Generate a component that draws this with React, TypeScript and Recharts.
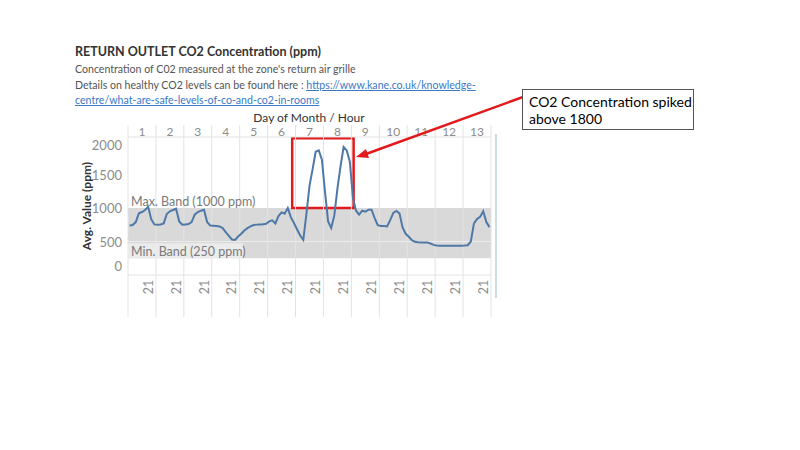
import { LineChart, Line, XAxis, YAxis, ReferenceArea, ReferenceLine } from 'recharts'

// days shown as panes, hours sampled inside each day
const days = [1, 2, 3, 4, 5, 6, 7, 8, 9, 10, 11, 12, 13]
const hours = [0, 4, 8, 12, 16, 19, 21, 22, 23]
const hourLabel = 21

// avg CO2 (ppm), one row per day, one value per sampled hour
const co2ByDay = [
  [740, 745, 790, 920, 940, 970, 1020, 830, 755],
  [750, 755, 770, 910, 950, 970, 990, 800, 750],
  [755, 760, 790, 900, 940, 960, 975, 790, 740],
  [735, 730, 725, 700, 640, 585, 530, 525, 575],
  [615, 665, 700, 725, 745, 752, 755, 757, 765],
  [800, 815, 770, 880, 935, 915, 1000, 860, 775],
  [680, 590, 525, 910, 1330, 1580, 1840, 1860, 1720],
  [1240, 800, 700, 890, 1290, 1620, 1910, 1860, 1690],
  [1150, 960, 900, 960, 945, 975, 975, 850, 745],
  [732, 730, 725, 820, 925, 955, 920, 710, 615],
  [570, 520, 495, 488, 486, 485, 484, 470, 450],
  [440, 438, 437, 437, 437, 437, 438, 438, 438],
  [440, 445, 500, 770, 835, 870, 950, 790, 715],
]

const yTicks = [0, 500, 1000, 1500, 2000]
const yMax = 2060
const bandMin = 250
const bandMax = 1000
const spikeDays = [7, 8]

const data = days.flatMap((day, di) =>
  hours.map((hour, hi) => ({ t: di + (hi + 0.5) / hours.length, day, hour, value: co2ByDay[di][hi] }))
)
const bounds = days.map((_, i) => i).concat(days.length)
const topTicks = bounds.concat(days.map((_, i) => i + 0.5))
const labelPos = (hours.indexOf(hourLabel) + 0.5) / hours.length
const bottomTicks = bounds.concat(days.map((_, i) => i + labelPos))

const FONT = 'Lato, "Open Sans", sans-serif'
const GRID = '#e3e3e3'
const LINK = { color: '#3a78c8', textDecoration: 'underline' }

const TopTick = ({ x, y, payload }: any) => {
  const v = payload.value
  if (Number.isInteger(v)) return <line x1={x} x2={x} y1={y - 12} y2={y} stroke={GRID} />
  return (
    <text x={x} y={y - 6} textAnchor="middle" dominantBaseline="central" fill="#8c8c8c" fontSize={12} fontFamily={FONT}>
      {days[Math.floor(v)]}
    </text>
  )
}

const BottomTick = ({ x, y, payload }: any) => {
  const v = payload.value
  if (Number.isInteger(v)) return <line x1={x} x2={x} y1={y} y2={y + 42} stroke={GRID} />
  return (
    <text x={x} y={y + 12} transform={`rotate(-90 ${x} ${y + 12})`} textAnchor="middle" dominantBaseline="central" fill="#8c8c8c" fontSize={12.5} fontFamily={FONT}>
      {hourLabel}
    </text>
  )
}

const LeftTick = ({ x, y, payload }: any) => (
  <text x={x} y={Math.min(Math.max(y, 145), 266)} textAnchor="end" dominantBaseline="central" fill="#8c8c8c" fontSize={13} fontFamily={FONT}>
    {payload.value}
  </text>
)

const BandLabel = ({ viewBox, text, shaded }: any) => {
  const { x, y } = viewBox
  return (
    <g>
      {shaded && <rect x={x} y={y - 15} width={115} height={15} fill="#ebebeb" />}
      <text x={x + 3} y={y - 7} dominantBaseline="central" fill="#7a7a7a" fontSize={12.5} fontFamily={FONT}>
        {text}
      </text>
    </g>
  )
}

export default function App() {
  return (
    <div style={{ position: 'absolute', left: 0, top: 0, width: 800, height: 450, background: '#fff', fontFamily: FONT }}>
      <div style={{ position: 'absolute', left: 75, top: 44, fontSize: 12.5, fontWeight: 700, color: '#333', whiteSpace: 'nowrap' }}>
        RETURN OUTLET CO2 Concentration (ppm)
      </div>
      <div style={{ position: 'absolute', left: 75, top: 62, fontSize: 10.6, lineHeight: '15.5px', color: '#555', whiteSpace: 'nowrap' }}>
        <div>Concentration of C02 measured at the zone's return air grille</div>
        <div>
          Details on healthy CO2 levels can be found here : <span style={LINK}>https://www.kane.co.uk/knowledge-</span>
        </div>
        <div>
          <span style={LINK}>centre/what-are-safe-levels-of-co-and-co2-in-rooms</span>
        </div>
      </div>

      <LineChart width={800} height={450} data={data} margin={{ top: 124, right: 309, bottom: 135, left: 68 }} style={{ position: 'absolute', left: 0, top: 0 }}>
        <XAxis xAxisId="top" orientation="top" type="number" dataKey="t" domain={[0, days.length]} ticks={topTicks} interval={0} height={13} tickSize={0} tickMargin={0} axisLine={false} tick={<TopTick />} />
        <XAxis type="number" dataKey="t" domain={[0, days.length]} ticks={bottomTicks} interval={0} height={40} tickSize={0} tickMargin={0} axisLine={false} tick={<BottomTick />} />
        <YAxis type="number" domain={[0, yMax]} ticks={yTicks} width={60} tickSize={0} tickMargin={6} axisLine={false} tick={<LeftTick />} />

        <ReferenceArea y1={bandMin} y2={bandMax} fill="#d9d9d9" fillOpacity={1} stroke="none" />
        <ReferenceLine y={500} stroke="#ececec" />
        <ReferenceLine y={0} stroke={GRID} />
        <ReferenceLine y={yMax} stroke={GRID} />
        {bounds.map((b) => (
          <ReferenceLine key={b} x={b} stroke={GRID} />
        ))}
        <ReferenceLine y={bandMax} stroke="none" label={<BandLabel text="Max. Band (1000 ppm)" />} />
        <ReferenceLine y={bandMin} stroke="none" label={<BandLabel text="Min. Band (250 ppm)" shaded />} />

        <Line dataKey="value" type="linear" stroke="#4e79a7" strokeWidth={2} dot={false} isAnimationActive={false} />

        <ReferenceArea
          x1={spikeDays[0] - 1 - 0.12}
          x2={spikeDays[1] + 0.08}
          y1={bandMax}
          y2={yMax - 20}
          fill="none"
          stroke="#e31a1c"
          strokeWidth={2.5}
          ifOverflow="visible"
        />
      </LineChart>

      <svg width={800} height={450} style={{ position: 'absolute', left: 0, top: 0, pointerEvents: 'none' }}>
        <text x={309} y={117} textAnchor="middle" dominantBaseline="central" fill="#333" fontSize={12} fontFamily={FONT}>
          Day of Month  /  Hour
        </text>
        <text x={86} y={206} transform="rotate(-90 86 206)" textAnchor="middle" dominantBaseline="central" fill="#333" fontSize={12} fontWeight={700} fontFamily={FONT}>
          Avg. Value (ppm)
        </text>
        <line x1={496} x2={496} y1={134} y2={298} stroke="#b7d3df" strokeWidth={1.5} />
        <line x1={523} y1={97} x2={366} y2={154} stroke="#e31a1c" strokeWidth={2.5} />
        <polygon points="356,157 366,149 369,158" fill="#e31a1c" />
      </svg>

      <div
        style={{
          position: 'absolute',
          left: 522,
          top: 89,
          width: 172,
          height: 41,
          border: '1px solid #555',
          background: '#fff',
          fontSize: 14,
          lineHeight: '17px',
          color: '#000',
          padding: '3px 0 0 6px',
          boxSizing: 'border-box',
          whiteSpace: 'nowrap',
        }}
      >
        CO2 Concentration spiked
        <br />
        above 1800
      </div>
    </div>
  )
}
